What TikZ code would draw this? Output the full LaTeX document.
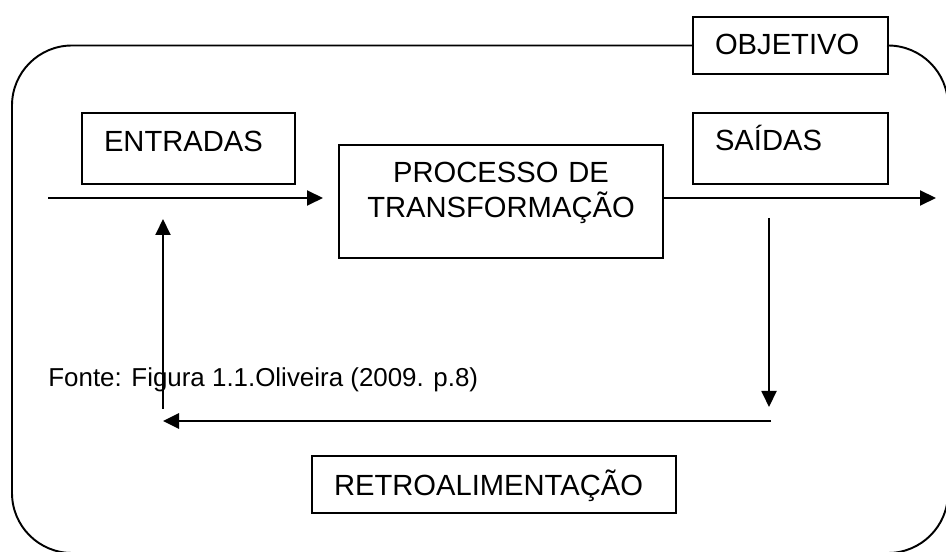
\documentclass[tikz,border=0pt]{standalone}
\usepackage{fontspec}
\setmainfont{Liberation Sans}
\usetikzlibrary{arrows.meta}
\tikzstyle{caixa} = [
    rectangle,
    draw=black,
    line width=1.1pt,
    font=\fontsize{16.6pt}{19.9pt}\selectfont,
    align=left,
    inner xsep=0.44cm, % text starts 22px in
    inner ysep=0pt,
    outer sep=0pt,
    anchor=north west
]
\tikzstyle{seta} = [
    -{Triangle[length=0.32cm, width=0.3cm]},
    line width=1.1pt
]
\tikzstyle{fonte} = [
    font=\fontsize{14.75pt}{17pt}\selectfont,
    inner sep=0pt,
    anchor=base west
]
\begin{document}
\begin{tikzpicture}
\useasboundingbox (0,0) rectangle (18.92,-11.04);
\clip (0,0) rectangle (18.92,-11.04);

% boxes
\node [caixa, text width=3.38cm, text height=0.78cm, text depth=0.64cm]
    (entradas) at (1.64,-2.26) {ENTRADAS};
\node [caixa, align=center, text width=5.6cm, text height=0.76cm, text depth=1.5cm]
    (processo) at (6.78,-2.9) {PROCESSO DE\\TRANSFORMAÇÃO};
\node [caixa, text width=3.02cm, text height=0.76cm, text depth=0.66cm]
    (saidas) at (13.86,-2.26) {SAÍDAS};
\node [caixa, text width=3.02cm, text height=0.76cm, text depth=0.38cm]
    (objetivo) at (13.86,-0.34) {OBJETIVO};
\node [caixa, text width=6.4cm, text height=0.78cm, text depth=0.36cm]
    (retro) at (6.24,-9.12) {RETROALIMENTAÇÃO};
\node [fonte] (fonte) at (0.96,-7.74) {Fonte: Figura 1.1.Oliveira (2009. p.8)};

% outer frame
\draw [line width=1.1pt, rounded corners=1.2cm]
    (objetivo.west) -- (0.24,-0.91) -- (0.24,-11.06)
    -- (18.96,-11.06) -- (18.96,-0.91) -- (objetivo.east);

% flow
\coordinate (in0) at (0.96,-3.96);
\coordinate (out1) at (18.72,-3.96);
\draw [seta, shorten >=0.32cm] (in0) -- (processo.west |- in0);
\draw [seta] (processo.east |- out1) -- (out1);

% feedback
\coordinate (ret-a) at (15.38,-4.36);
\coordinate (ret-b) at (15.38,-8.14);
\coordinate (ret-c) at (15.42,-8.42);
\coordinate (ret-d) at (3.26,-8.42);
\coordinate (ret-e) at (3.26,-8.18);
\coordinate (ret-f) at (3.26,-4.38);
\draw [seta] (ret-a) -- (ret-b);
\draw [seta, line width=1.5pt] (ret-c) -- (ret-d);
\draw [seta] (ret-e) -- (ret-f);
\end{tikzpicture}
\end{document}
